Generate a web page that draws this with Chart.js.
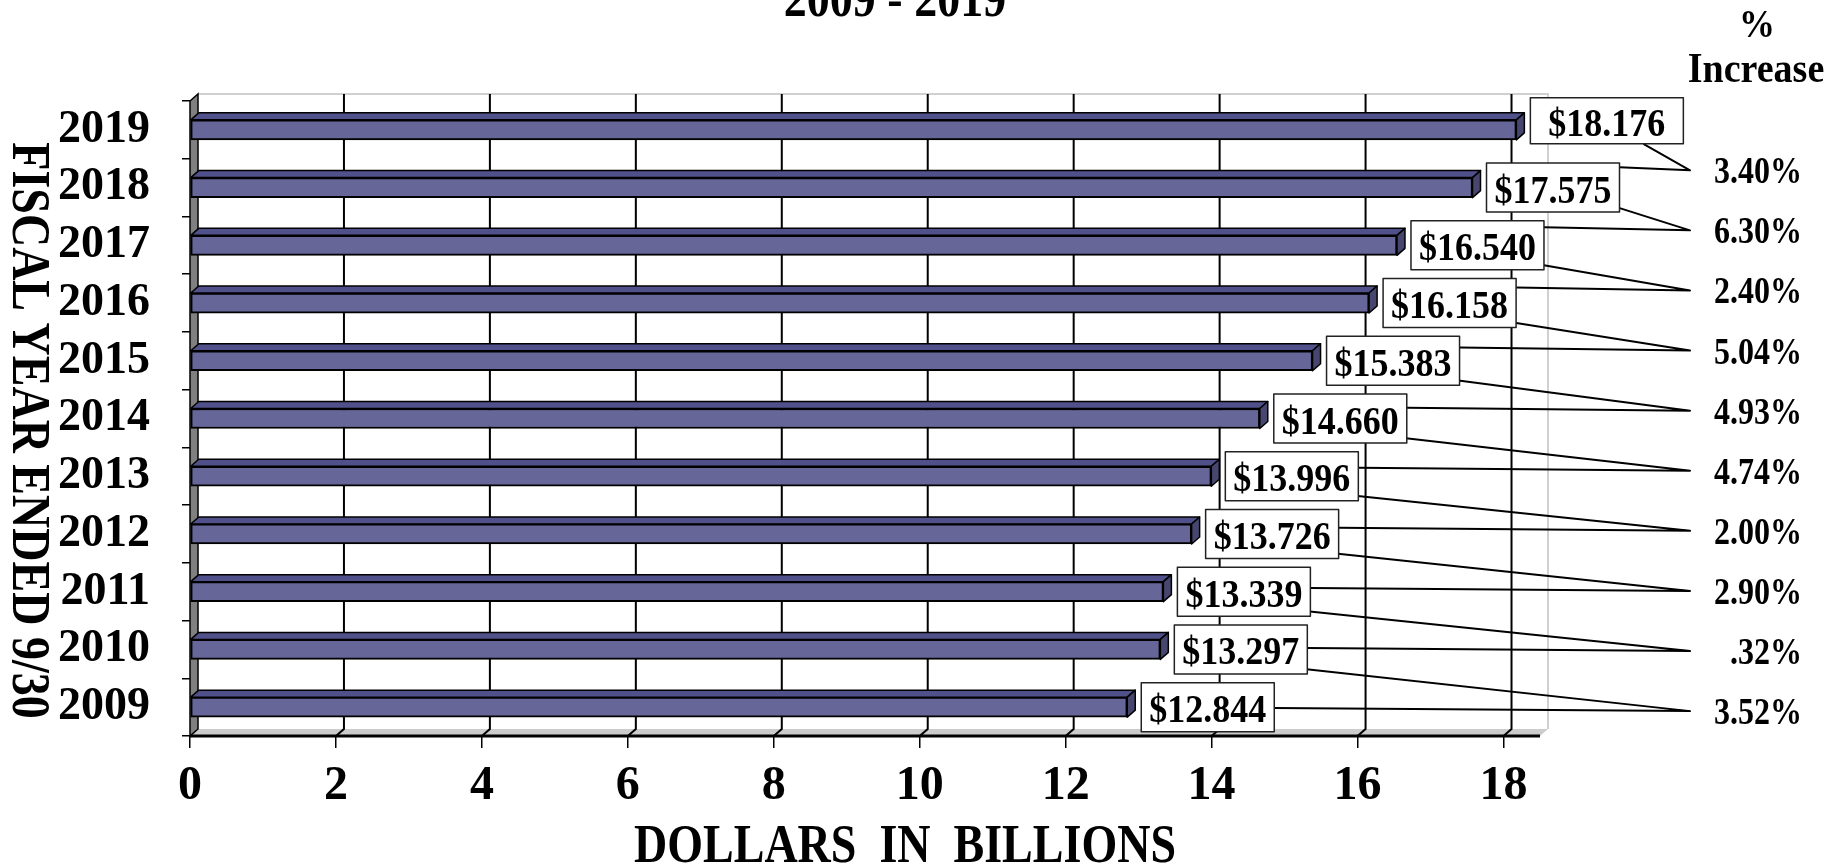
<!DOCTYPE html>
<html><head><meta charset="utf-8">
<script src="https://cdn.jsdelivr.net/npm/chart.js@4.4.1/dist/chart.umd.min.js"></script>
<style>html,body{margin:0;padding:0;background:#fff;overflow:hidden}canvas{display:block}</style>
</head><body>
<canvas id="c" width="1839" height="866"></canvas>
<script>
// ---- data ----
const years = ['2009','2010','2011','2012','2013','2014','2015','2016','2017','2018','2019'];
const revenue = [12.844, 13.297, 13.339, 13.726, 13.996, 14.660, 15.383, 16.158, 16.540, 17.575, 18.176];
const pctIncrease = ['', '3.52%', '.32%', '2.90%', '2.00%', '4.74%', '4.93%', '5.04%', '2.40%', '6.30%', '3.40%'];
const xTickStep = 2;
const xMin = 0, xMax = 18.5;
const titleText = '2009 - 2019';
const xTitle = 'DOLLARS  IN  BILLIONS';
const yTitle = 'FISCAL YEAR ENDED 9/30';
const pctHeader = ['%', 'Increase'];

// ---- style ----
const SERIF = '"Liberation Serif", "Times New Roman", serif';
const DX = 8, DY = -7;

function poly(ctx, pts) {
  ctx.beginPath();
  ctx.moveTo(pts[0][0], pts[0][1]);
  for (let i = 1; i < pts.length; i++) ctx.lineTo(pts[i][0], pts[i][1]);
  ctx.closePath();
}

function tallText(ctx, txt, x, y, sy) {
  ctx.save();
  ctx.translate(x, y);
  ctx.scale(1, sy);
  ctx.fillText(txt, 0, 0);
  ctx.restore();
}

const frame = {
  id: 'frame',
  beforeDatasetsDraw(chart) {
    const {ctx, chartArea: a, scales: {x}} = chart;
    ctx.save();
    ctx.fillStyle = '#fff';
    poly(ctx, [[a.left+DX, a.top+DY],[a.right+DX, a.top+DY],[a.right+DX, a.bottom+DY],[a.left+DX, a.bottom+DY]]);
    ctx.fill();
    ctx.strokeStyle = '#d0d0d0'; ctx.lineWidth = 2;
    ctx.beginPath(); ctx.moveTo(a.left+DX, a.top+DY); ctx.lineTo(a.right+DX, a.top+DY); ctx.lineTo(a.right+DX, a.bottom+DY); ctx.stroke();
    ctx.fillStyle = '#cccccc';
    poly(ctx, [[a.left, a.bottom],[a.right, a.bottom],[a.right+DX, a.bottom+DY],[a.left+DX, a.bottom+DY]]);
    ctx.fill();
    ctx.strokeStyle = '#000'; ctx.lineWidth = 2;
    x.ticks.forEach(t => {
      if (t.value === xMin) return;
      const px = x.getPixelForValue(t.value);
      ctx.beginPath();
      ctx.moveTo(px+DX, a.top+DY);
      ctx.lineTo(px+DX, a.bottom+DY);
      ctx.lineTo(px, a.bottom);
      ctx.stroke();
    });
    ctx.lineWidth = 3;
    ctx.beginPath(); ctx.moveTo(a.left, a.bottom); ctx.lineTo(a.right, a.bottom); ctx.stroke();
    ctx.fillStyle = '#808080'; ctx.lineWidth = 1.5;
    poly(ctx, [[a.left, a.top],[a.left+DX, a.top+DY],[a.left+DX, a.bottom+DY],[a.left, a.bottom]]);
    ctx.fill(); ctx.stroke();
    ctx.restore();
  },
  afterDatasetsDraw(chart) {
    const {ctx, chartArea: a, scales: {x, y}} = chart;
    const meta = chart.getDatasetMeta(0);
    const n = years.length;
    ctx.save();
    ctx.strokeStyle = '#000'; ctx.lineWidth = 1.5; ctx.lineJoin = 'round';
    const boxes = [];
    meta.data.forEach((bar, i) => {
      const p = bar.getProps(['x','y','base','height'], true);
      const top = p.y - p.height/2, bot = p.y + p.height/2;
      ctx.fillStyle = '#50508a';
      poly(ctx, [[p.base, top],[p.base+DX, top+DY],[p.x+DX, top+DY],[p.x, top]]);
      ctx.fill(); ctx.stroke();
      ctx.fillStyle = '#46466f';
      poly(ctx, [[p.x, top],[p.x+DX, top+DY],[p.x+DX, bot+DY],[p.x, bot]]);
      ctx.fill(); ctx.stroke();
      ctx.font = 'bold 36px ' + SERIF;
      const txt = '$' + revenue[i].toFixed(3);
      const tw = ctx.measureText(txt).width;
      const isTop = i === n - 1;
      const pad = isTop ? 18 : 8;
      const h = isTop ? 46 : 49;
      const cy = p.y + (isTop ? -9 : 0);
      const left = p.x + DX + 6;
      boxes[i] = {txt, left, right: left + tw + 2*pad, top: cy - h/2, bottom: cy + h/2, cy};
    });
    const step = Math.abs(y.getPixelForValue(n-2) - y.getPixelForValue(n-1));
    const y0 = y.getPixelForValue(n-1);
    const convX = 1690;
    for (let i = n - 1; i >= 1; i--) {
      const k = n - 1 - i;
      const yk = y0 + (0.70 + 1.041*k) * step;
      const up = boxes[i], lo = boxes[i-1];
      ctx.strokeStyle = '#000'; ctx.lineWidth = 2;
      ctx.beginPath();
      ctx.moveTo(up.right - (i === n-1 ? 40 : 3), up.bottom - (i === n-1 ? 0 : 5));
      ctx.lineTo(convX, yk);
      const ly = Math.min(Math.max(yk - 3, lo.top + 4), lo.bottom - 4);
      ctx.lineTo(lo.right, ly);
      ctx.stroke();
      ctx.fillStyle = '#000';
      ctx.font = 'bold 32px ' + SERIF;
      ctx.textAlign = 'right'; ctx.textBaseline = 'alphabetic';
      tallText(ctx, pctIncrease[i], 1802, yk + 13, 1.18);
    }
    boxes.forEach(b => {
      ctx.fillStyle = '#fff';
      ctx.fillRect(b.left, b.top, b.right - b.left, b.bottom - b.top);
      ctx.strokeStyle = '#222'; ctx.lineWidth = 1.5;
      ctx.strokeRect(b.left, b.top, b.right - b.left, b.bottom - b.top);
      ctx.fillStyle = '#000';
      ctx.font = 'bold 36px ' + SERIF;
      ctx.textAlign = 'center'; ctx.textBaseline = 'alphabetic';
      tallText(ctx, b.txt, (b.left + b.right)/2, b.cy + 15, 1.12);
    });
    ctx.fillStyle = '#000';
    ctx.textAlign = 'center'; ctx.textBaseline = 'alphabetic';
    ctx.font = 'bold 46px ' + SERIF;
    tallText(ctx, titleText, 895, 16, 1.15);
    ctx.font = 'bold 36px ' + SERIF;
    tallText(ctx, pctHeader[0], 1757, 37, 1.1);
    ctx.font = 'bold 38px ' + SERIF;
    tallText(ctx, pctHeader[1], 1756, 82, 1.12);
    ctx.font = 'bold 46px ' + SERIF;
    tallText(ctx, xTitle, (a.left + a.right)/2 + 40, 862, 1.2);
    ctx.save();
    ctx.translate(13, (a.top + a.bottom)/2 + 12);
    ctx.rotate(Math.PI/2);
    ctx.scale(1, 1.2);
    ctx.textAlign = 'center'; ctx.textBaseline = 'alphabetic';
    ctx.fillText(yTitle, 0, 0);
    ctx.restore();
    ctx.restore();
  }
};

new Chart(document.getElementById('c'), {
  type: 'bar',
  data: {
    labels: years,
    datasets: [{
      data: revenue,
      backgroundColor: '#666699',
      borderColor: '#000',
      borderWidth: 2,
      borderSkipped: false,
      barThickness: 20
    }]
  },
  options: {
    indexAxis: 'y',
    responsive: false,
    animation: false,
    devicePixelRatio: 1,
    layout: { padding: { top: 101, right: 299, left: 0, bottom: 0 } },
    plugins: { legend: { display: false }, tooltip: { enabled: false }, title: { display: false } },
    scales: {
      x: {
        type: 'linear', min: xMin, max: xMax,
        ticks: { stepSize: xTickStep, includeBounds: false, color: '#000', padding: 10, maxRotation: 0, autoSkip: false,
                 font: { family: SERIF, size: 48, weight: 'bold' } },
        grid: { drawOnChartArea: false, tickLength: 12, color: '#000', lineWidth: 1.5 },
        border: { display: false },
        afterFit: s => { s.height = 130; }
      },
      y: {
        reverse: true,
        ticks: { color: '#000', padding: 32, autoSkip: false, font: { family: SERIF, size: 46, weight: 'bold' } },
        grid: { drawOnChartArea: false, tickLength: 8, color: '#000', lineWidth: 1.5 },
        border: { display: false },
        afterFit: s => { s.width = 190; }
      }
    }
  },
  plugins: [frame]
});
</script>
</body></html>
